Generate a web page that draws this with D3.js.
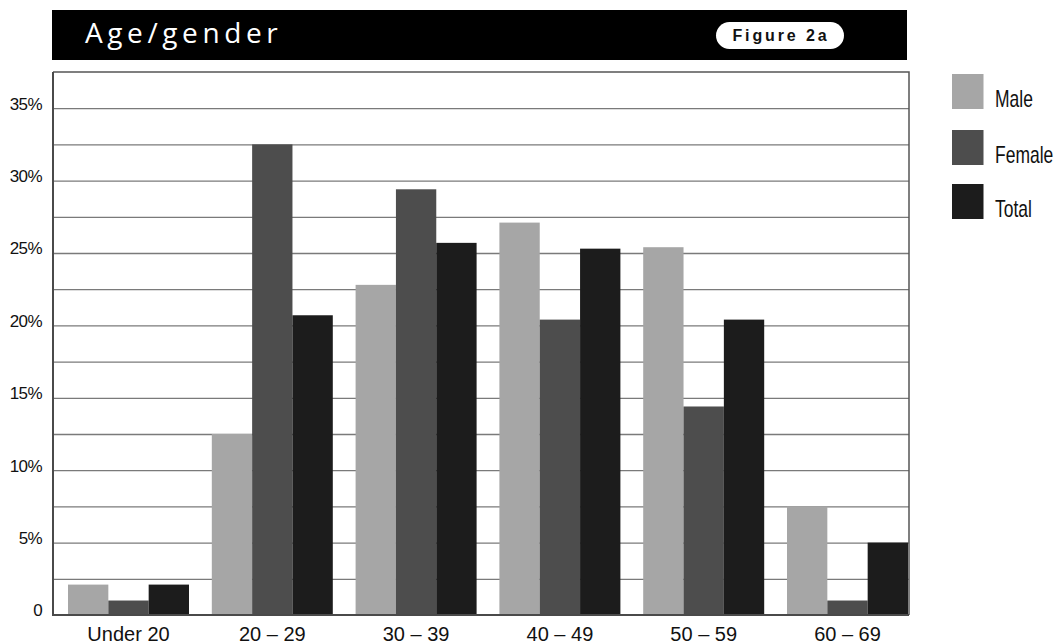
<!DOCTYPE html>
<html>
<head>
<meta charset="utf-8">
<script src="https://cdn.jsdelivr.net/npm/d3@7"></script>
<style>
  html, body { margin: 0; padding: 0; background: #fff; }
  svg { display: block; }
</style>
</head>
<body>
<svg id="chart" width="1063" height="643"></svg>
<script>
// Age groups and shares (%) by gender
const categories = ["Under 20", "20 \u2013 29", "30 \u2013 39", "40 \u2013 49", "50 \u2013 59", "60 \u2013 69"];
const seriesNames = ["Male", "Female", "Total"];
const male   = [2.1, 12.5, 22.8, 27.1, 25.4, 7.5];
const female = [1.0, 32.5, 29.4, 20.4, 14.4, 1.0];
const total  = [2.1, 20.7, 25.7, 25.3, 20.4, 5.0];
const yTickValues = [0, 5, 10, 15, 20, 25, 30, 35];
const yTickLabels = ["0", "5%", "10%", "15%", "20%", "25%", "30%", "35%"];
const gridValues = [2.5, 5, 7.5, 10, 12.5, 15, 17.5, 20, 22.5, 25, 27.5, 30, 32.5, 35];

const colors = { Male: "#a6a6a6", Female: "#4d4d4d", Total: "#1c1c1c" };
const seriesValues = { Male: male, Female: female, Total: total };

const svg = d3.select("#chart");

// Plot frame
const plot = { left: 53, right: 909, top: 72, bottom: 615 };

const y = d3.scaleLinear().domain([0, 37.5]).range([plot.bottom, plot.top]);

// Groups sit slightly off-centre inside the frame
const x0 = d3.scaleBand()
  .domain(categories)
  .range([56.6, 919.4])
  .paddingInner(0.1586)
  .paddingOuter(0.0793);
const x1 = d3.scaleBand().domain(seriesNames).range([0, x0.bandwidth()]).padding(0);

// Title bar
svg.append("rect")
  .attr("x", 52).attr("y", 10).attr("width", 855).attr("height", 50)
  .attr("fill", "#000");
svg.append("text")
  .attr("x", 85).attr("y", 43)
  .attr("fill", "#fff")
  .attr("font-family", "'Open Sans', 'Noto Sans', sans-serif")
  .attr("font-size", 28)
  .attr("letter-spacing", 4.6)
  .text("Age/gender");

// Figure badge
svg.append("rect")
  .attr("x", 716).attr("y", 22).attr("width", 128).attr("height", 27)
  .attr("rx", 13.5).attr("ry", 13.5)
  .attr("fill", "#fff");
svg.append("text")
  .attr("x", 781).attr("y", 40.5)
  .attr("text-anchor", "middle")
  .attr("fill", "#111")
  .attr("font-family", "'Liberation Sans', Arial, sans-serif")
  .attr("font-weight", "bold")
  .attr("font-size", 16)
  .attr("letter-spacing", 2.9)
  .text("Figure 2a");

// Horizontal gridlines
const gridAxis = d3.axisLeft(y)
  .tickValues(gridValues)
  .tickSize(-(plot.right - plot.left))
  .tickFormat("");
const gridG = svg.append("g")
  .attr("transform", `translate(${plot.left},0)`)
  .call(gridAxis);
gridG.select(".domain").remove();
gridG.selectAll(".tick line")
  .attr("stroke", "#7a7a7a")
  .attr("stroke-width", 1.3);

// Bars
const groups = svg.append("g").selectAll("g")
  .data(categories)
  .join("g")
  .attr("transform", d => `translate(${x0(d)},0)`);

groups.selectAll("rect")
  .data((d, i) => seriesNames.map(s => ({ key: s, value: seriesValues[s][i] })))
  .join("rect")
  .attr("x", d => x1(d.key))
  .attr("y", d => y(d.value))
  .attr("width", x1.bandwidth())
  .attr("height", d => y(0) - y(d.value))
  .attr("fill", d => colors[d.key]);

// Frame: top/right border and the axis lines
svg.append("path")
  .attr("d", `M${plot.left},${plot.top}H${plot.right}V${plot.bottom}`)
  .attr("fill", "none")
  .attr("stroke", "#555")
  .attr("stroke-width", 1.5);
svg.append("path")
  .attr("d", `M${plot.left},${plot.top}V${plot.bottom}H${plot.right}`)
  .attr("fill", "none")
  .attr("stroke", "#4a4a4a")
  .attr("stroke-width", 2);

// Y tick labels
const yAxis = d3.axisLeft(y)
  .tickValues(yTickValues)
  .tickSize(0)
  .tickPadding(0)
  .tickFormat((d, i) => yTickLabels[i]);
const yG = svg.append("g")
  .attr("transform", `translate(42,-4.5)`)
  .call(yAxis);
yG.select(".domain").remove();
yG.selectAll("text")
  .attr("fill", "#111")
  .attr("font-family", "'Liberation Sans', Arial, sans-serif")
  .attr("font-size", 17)
  .attr("letter-spacing", -0.6);

// X category labels
const xAxis = d3.axisBottom(x0).tickSize(0).tickPadding(0);
const xG = svg.append("g")
  .attr("transform", `translate(0,${plot.bottom})`)
  .call(xAxis);
xG.select(".domain").remove();
xG.selectAll("text")
  .attr("dy", 0)
  .attr("y", 25.5)
  .attr("fill", "#111")
  .attr("font-family", "'Liberation Sans', Arial, sans-serif")
  .attr("font-size", 20);

// Legend
const legendTop = [74, 130, 184];
const legend = svg.append("g").selectAll("g")
  .data(seriesNames)
  .join("g")
  .attr("transform", (d, i) => `translate(952,${legendTop[i]})`);
legend.append("rect")
  .attr("width", 31.5).attr("height", 35)
  .attr("fill", d => colors[d]);
legend.append("text")
  .attr("transform", "translate(43,33) scale(0.76,1)")
  .attr("fill", "#111")
  .attr("font-family", "'Liberation Sans', Arial, sans-serif")
  .attr("font-size", 23)
  .text(d => d);
</script>
</body>
</html>
